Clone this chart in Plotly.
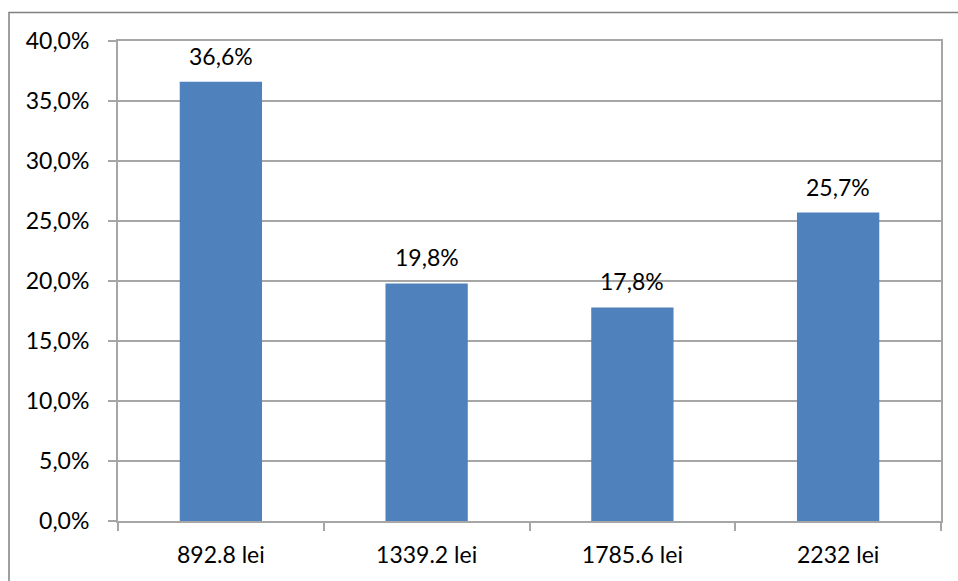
import plotly.graph_objects as go

categories = ["892.8 lei", "1339.2 lei", "1785.6 lei", "2232 lei"]
shares = [36.6, 19.8, 17.8, 25.7]
labels = ["36,6%", "19,8%", "17,8%", "25,7%"]

grid = "#A6A6A6"
font = "Lato, 'Open Sans', sans-serif"
size = 23

fig = go.Figure(
    go.Bar(
        x=categories,
        y=shares,
        width=0.4,
        marker=dict(color="#4F81BD", line=dict(width=0)),
        cliponaxis=False,
    )
)

# value labels sitting just above each bar
for cat, val, lab in zip(categories, shares, labels):
    fig.add_annotation(
        x=cat, y=val, text=lab, showarrow=False,
        yanchor="bottom", yshift=10,
        font=dict(size=size, color="#000000", family=font),
    )

fig.update_layout(
    width=958,
    height=581,
    margin=dict(l=118, r=17, t=41, b=60),
    paper_bgcolor="white",
    plot_bgcolor="white",
    separators=",.",
    showlegend=False,
    font=dict(family=font, size=size, color="#000000"),
    xaxis=dict(
        showgrid=False,
        showline=True,
        linecolor=grid,
        linewidth=2,
        mirror=True,
        ticks="outside",
        tickson="boundaries",
        ticklen=8,
        tickcolor=grid,
        tickwidth=2,
        ticklabelstandoff=12,
        tickfont=dict(size=size),
    ),
    yaxis=dict(
        range=[0, 40],
        dtick=5,
        tickformat=".1f",
        ticksuffix="%",
        showgrid=True,
        gridcolor=grid,
        gridwidth=2,
        showline=True,
        linecolor=grid,
        linewidth=2,
        mirror=True,
        ticks="outside",
        ticklen=8,
        tickcolor=grid,
        tickwidth=2,
        ticklabelstandoff=14,
        zeroline=False,
        tickfont=dict(size=size),
    ),
    shapes=[
        dict(
            type="rect",
            xref="paper",
            yref="paper",
            x0=(9 - 118) / 823,
            x1=(990 - 118) / 823,
            y0=-0.3,
            y1=1 + (41 - 12.5) / 480,
            line=dict(color="#808080", width=1.5),
            fillcolor="rgba(0,0,0,0)",
            layer="below",
        )
    ],
)

fig.write_html("out.html")
